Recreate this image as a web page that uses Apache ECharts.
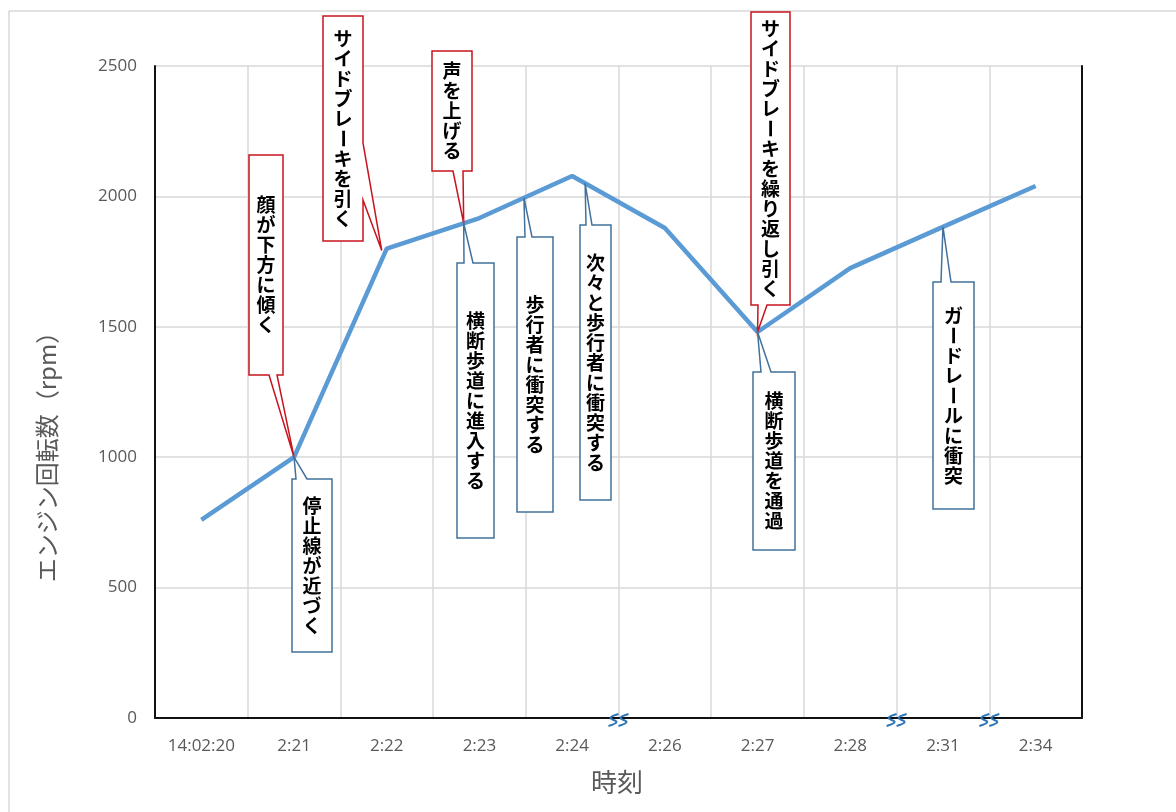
<!DOCTYPE html>
<html><head><meta charset="utf-8">
<script src="https://cdn.jsdelivr.net/npm/echarts@6/dist/echarts.min.js"></script>
<style>html,body{margin:0;padding:0;background:#fff}#c{width:1176px;height:812px}</style>
</head><body><div id="c"></div>
<script>
// ---- data ----
const categories = ['14:02:20','2:21','2:22','2:23','2:24','2:26','2:27','2:28','2:31','2:34'];
const rpm = [760, 1000, 1800, 1917, 2078, 1879, 1480, 1725, 1883, 2040];
const yMin = 0, yMax = 2500, yStep = 500;
const xTitle = '時刻';
const yTitle = 'エンジン回転数（rpm）';
const noteTexts = ['顔が下方に傾く','停止線が近づく','サイドブレーキを引く','声を上げる','横断歩道に進入する','歩行者に衝突する','次々と歩行者に衝突する','サイドブレーキを繰り返し引く','横断歩道を通過','ガードレールに衝突'];
const noteAnchors = [1, 1, 2, 2.83, 2.83, 3.48, 4.14, 6, 6, 8]; // position along the category axis
const axisBreaks = [4.5, 7.5, 8.5];

// ---- layout / styles ----
const RED = '#C8141E', BLUE = '#41719C';
const boxes = [
  {l:249,t:155,r:283,b:375,side:'bottom',base:[269,277],c:RED},
  {l:292,t:479,r:332,b:652,side:'top',base:[296,307],c:BLUE},
  {l:323,t:16,r:363,b:241,side:'right',base:[143,200],c:RED,dx:-5,dy:2},
  {l:432,t:51,r:472,b:171,side:'bottom',base:[453,463],c:RED},
  {l:457,t:263,r:494,b:538,side:'top',base:[464,473],c:BLUE},
  {l:517,t:237,r:553,b:512,side:'top',base:[525,532],c:BLUE},
  {l:580,t:225,r:611,b:500,side:'top',base:[586,592],c:BLUE},
  {l:751,t:12,r:790,b:305,side:'bottom',base:[758,767],c:RED},
  {l:753,t:372,r:795,b:550,side:'top',base:[761,771],c:BLUE},
  {l:933,t:282,r:974,b:509,side:'top',base:[941,951],c:BLUE}
];

const FONT = '"Noto Sans CJK JP","Noto Sans",sans-serif';
const NUMFONT = '"Open Sans","Noto Sans",sans-serif';
const chart = echarts.init(document.getElementById('c'));
chart.setOption({
  animation:false,
  backgroundColor:'#fff',
  grid:{left:155,right:94,top:66,bottom:94,containLabel:false},
  xAxis:[{
    type:'category',data:categories,boundaryGap:true,position:'bottom',
    axisLine:{lineStyle:{color:'#d9d9d9',width:1.5}},
    axisTick:{show:false},
    axisLabel:{color:'#595959',fontSize:17,margin:20,fontFamily:NUMFONT,interval:0},
    splitLine:{show:true,interval:0,lineStyle:{color:'#d9d9d9',width:1.5}}
  },{
    type:'category',data:categories,position:'top',
    axisLine:{lineStyle:{color:'#111',width:2}},axisTick:{show:false},axisLabel:{show:false},splitLine:{show:false}
  }],
  yAxis:[{
    type:'value',min:yMin,max:yMax,interval:yStep,
    axisLine:{show:true,lineStyle:{color:'#111',width:2}},
    axisTick:{show:false},
    axisLabel:{color:'#595959',fontSize:17,margin:18,fontFamily:NUMFONT,formatter:v=>String(v)},
    splitLine:{lineStyle:{color:'#d9d9d9',width:1.5}}
  },{
    type:'value',min:yMin,max:yMax,interval:yStep,position:'right',
    axisLine:{show:true,lineStyle:{color:'#111',width:2}},
    axisTick:{show:false},axisLabel:{show:false},splitLine:{show:false}
  }],
  series:[{
    type:'line',data:rpm,xAxisIndex:0,yAxisIndex:0,showSymbol:false,symbol:'none',
    lineStyle:{color:'#5B9BD5',width:4.5},z:3
  }]
});

function px(i){ return chart.convertToPixel({xAxisIndex:0,yAxisIndex:0},[i,rpm[i]]); }
function anchorPx(f){
  const i = Math.min(Math.floor(f), rpm.length-2), t = f - i;
  const a = px(i), b = px(i+1);
  return [a[0]+(b[0]-a[0])*t, a[1]+(b[1]-a[1])*t];
}

const g = [];
g.push({type:'line',shape:{x1:9,y1:11,x2:1176,y2:11},style:{stroke:'#d9d9d9',lineWidth:1.5},z:1});
g.push({type:'line',shape:{x1:9,y1:11,x2:9,y2:812},style:{stroke:'#d9d9d9',lineWidth:1.5},z:1});
g.push({type:'text',x:617,y:782,z:5,style:{text:xTitle,fill:'#595959',font:'26px '+FONT,textAlign:'center',textVerticalAlign:'middle'}});
g.push({type:'text',x:47,y:451,rotation:Math.PI/2,z:5,style:{text:yTitle,fill:'#595959',font:'24px '+FONT,textAlign:'center',textVerticalAlign:'middle'}});

boxes.forEach((bx,k)=>{
  const a = anchorPx(noteAnchors[k]);
  const tip = [a[0]+(bx.dx||0), a[1]+(bx.dy||0)];
  let pts;
  if(bx.side==='bottom') pts=[[bx.l,bx.t],[bx.r,bx.t],[bx.r,bx.b],[bx.base[1],bx.b],tip,[bx.base[0],bx.b],[bx.l,bx.b]];
  else if(bx.side==='top') pts=[[bx.l,bx.t],[bx.base[0],bx.t],tip,[bx.base[1],bx.t],[bx.r,bx.t],[bx.r,bx.b],[bx.l,bx.b]];
  else pts=[[bx.l,bx.t],[bx.r,bx.t],[bx.r,bx.base[0]],tip,[bx.r,bx.base[1]],[bx.r,bx.b],[bx.l,bx.b]];
  g.push({type:'polygon',z:10,shape:{points:pts},style:{fill:'#fff',stroke:bx.c,lineWidth:1.5}});
  const chars = Array.from(noteTexts[k]);
  const step = 20;
  const cx = (bx.l+bx.r)/2, cy=(bx.t+bx.b)/2;
  const y0 = cy - chars.length*step/2;
  chars.forEach((ch,j)=>{
    g.push({type:'text',z:11,x:cx,y:y0+step*j+step/2,rotation:(ch==='ー')?-Math.PI/2:0,
      style:{text:ch,fill:'#000',font:'bold 19px '+FONT,textAlign:'center',textVerticalAlign:'middle'}});
  });
});

axisBreaks.forEach(f=>{
  const i=Math.floor(f);
  const a=chart.convertToPixel({xAxisIndex:0,yAxisIndex:0},[i,0]);
  const b=chart.convertToPixel({xAxisIndex:0,yAxisIndex:0},[i+1,0]);
  const cx=(a[0]+b[0])/2, cy=a[1]+2;
  [-5,5].forEach(o=>{
    const x=cx+o;
    g.push({type:'polyline',z:12,shape:{points:[[x+5,cy-6],[x-3,cy-2],[x+3,cy+2],[x-5,cy+6]],smooth:0.4},
      style:{stroke:'#2E75B6',lineWidth:2,fill:null}});
  });
});

chart.setOption({graphic:{elements:g}});
</script></body></html>
